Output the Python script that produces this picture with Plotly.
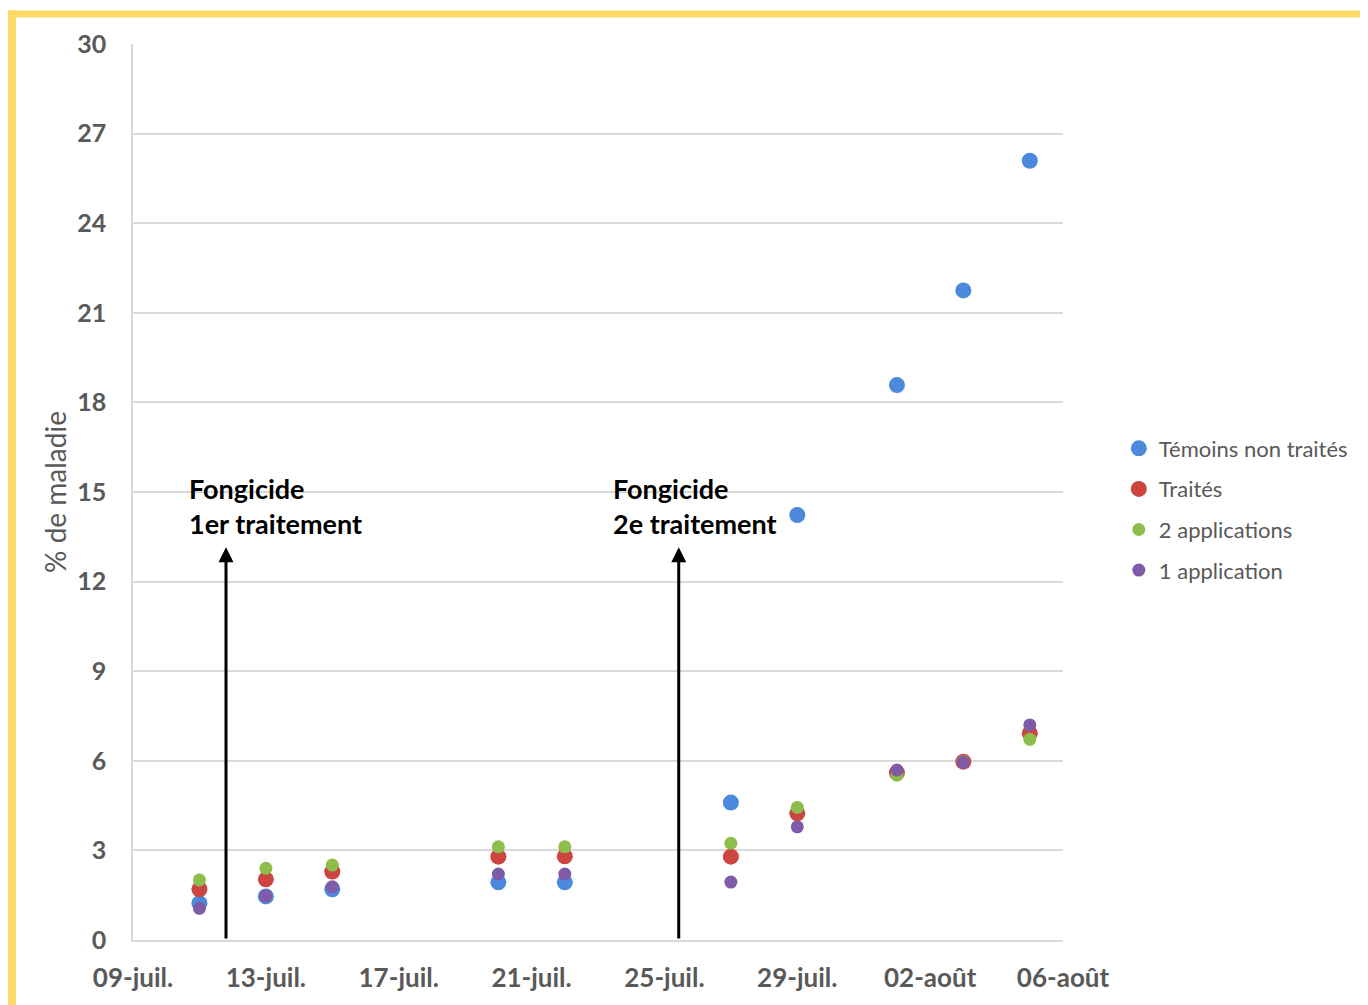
import plotly.graph_objects as go

dates = ["2024-07-11", "2024-07-13", "2024-07-15", "2024-07-20", "2024-07-22",
         "2024-07-27", "2024-07-29", "2024-08-01", "2024-08-03", "2024-08-05"]
temoins = [1.23, 1.46, 1.70, 1.93, 1.93, 4.60, 14.23, 18.58, 21.75, 26.09]
traites = [1.70, 2.03, 2.29, 2.79, 2.80, 2.79, 4.24, 5.60, 5.97, 6.92]
deux_app = [2.01, 2.40, 2.51, 3.12, 3.12, 3.24, 4.44, 5.52, 5.97, 6.72]
une_app = [1.06, 1.47, 1.78, 2.21, 2.21, 1.94, 3.79, 5.69, 5.95, 7.20]

tick_vals = ["2024-07-09", "2024-07-13", "2024-07-17", "2024-07-21", "2024-07-25",
             "2024-07-29", "2024-08-02", "2024-08-06"]
tick_text = ["09-juil.", "13-juil.", "17-juil.", "21-juil.", "25-juil.",
             "29-juil.", "02-août", "06-août"]
y_ticks = [0, 3, 6, 9, 12, 15, 18, 21, 24, 27, 30]

treatments = [("2024-07-11 19:12", "Fongicide<br>1er traitement"),
              ("2024-07-25 10:20", "Fongicide<br>2e traitement")]

series = [
    ("Témoins non traités", temoins, "#4A89DC", 16),
    ("Traités", traites, "#CC4541", 16),
    ("2 applications", deux_app, "#8DBE4C", 13),
    ("1 application", une_app, "#7D5BA6", 13),
]

fig = go.Figure()
for name, vals, color, size in series:
    fig.add_trace(go.Scatter(
        x=dates, y=vals, mode="markers", name=name, legendgroup=name,
        marker=dict(color=color, size=size, line=dict(width=0)),
    ))

text_x = [0.058, 0.514]
for (xd, label), tx in zip(treatments, text_x):
    fig.add_annotation(x=xd, y=13.15, ax=xd, ay=0, xref="x", yref="y",
                       axref="x", ayref="y", showarrow=True, arrowhead=2,
                       arrowsize=1, arrowwidth=3, arrowcolor="black", text="")
    fig.add_annotation(x=tx, y=0.5245, xref="paper", yref="paper",
                       xanchor="left", yanchor="top", align="left",
                       showarrow=False, text="<b>" + label + "</b>",
                       font=dict(family="Lato", size=27, color="black"))

# yellow frame (top and left)
fig.add_shape(type="rect", xref="paper", yref="paper", x0=-0.1344, x1=1.33,
              y0=1.0295, y1=1.0375, fillcolor="#FFD966", line=dict(width=0), layer="below")
fig.add_shape(type="rect", xref="paper", yref="paper", x0=-0.1344, x1=-0.1258,
              y0=-0.08, y1=1.0375, fillcolor="#FFD966", line=dict(width=0), layer="below")

fig.update_layout(
    width=1360, height=997,
    margin=dict(l=125, r=305, t=36, b=65, autoexpand=False),
    paper_bgcolor="white", plot_bgcolor="white",
    showlegend=True,
    legend=dict(x=1.060, y=0.572, xanchor="left", yanchor="top",
                font=dict(family="Lato", size=22, color="#595959"),
                tracegroupgap=9, itemsizing="trace"),
    xaxis=dict(range=["2024-07-09", "2024-08-06"], tickvals=tick_vals, ticktext=tick_text,
               showgrid=False, showline=True, linecolor="#D9D9D9", linewidth=1.5,
               ticks="", ticklabelstandoff=14, automargin=False,
               tickfont=dict(family="Lato", size=26, color="#595959", weight="bold"),
               zeroline=False),
    yaxis=dict(range=[0, 30], tickvals=y_ticks, showgrid=True, gridcolor="#D9D9D9",
               gridwidth=1.5, showline=True, linecolor="#D9D9D9", linewidth=1.5,
               ticks="", ticklabelstandoff=20, zeroline=False, automargin=False,
               tickfont=dict(family="Lato", size=25, color="#595959", weight="bold"),
               title=dict(text="% de maladie", standoff=2,
                          font=dict(family="Lato", size=28, color="#595959"))),
)

fig.write_html("out.html")
